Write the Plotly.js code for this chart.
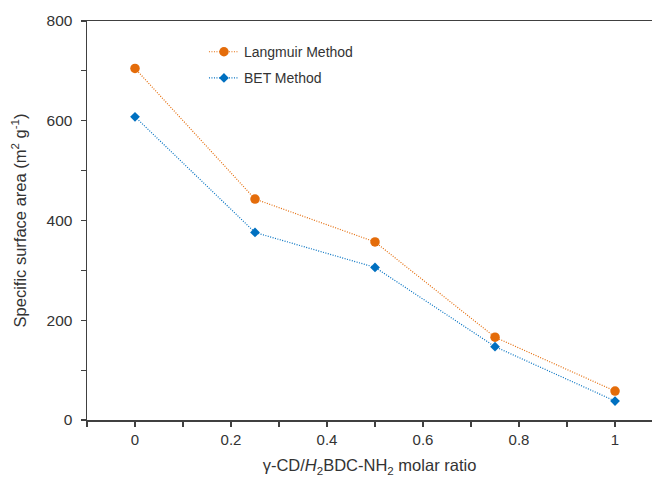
<!DOCTYPE html>
<html>
<head>
<meta charset="utf-8">
<script src="https://cdn.plot.ly/plotly-3.0.1.min.js"></script>
<style>html,body{margin:0;padding:0;background:#fff;}#chart{width:652px;height:477px;}</style>
</head>
<body>
<div id="chart"></div>
<script>
const ratio = [0, 0.25, 0.5, 0.75, 1];
const langmuir = [705, 443, 357, 166, 58];
const bet = [608, 376, 306, 147, 38];
const seriesNames = ["Langmuir Method", "BET Method"];
const xTickVals = [0, 0.2, 0.4, 0.6, 0.8, 1];
const xTickText = ["0", "0.2", "0.4", "0.6", "0.8", "1"];
const yTickVals = [0, 200, 400, 600, 800];

const axisColor = "#404040";
const textColor = "#333333";
const traces = [
  {x: ratio, y: langmuir, name: seriesNames[0], legendgroup: "a", type: "scatter", mode: "lines+markers",
   line: {color: "#E46C0A", width: 1.2, dash: "1px,1.5px"},
   marker: {symbol: "circle", size: 9.5, color: "#E46C0A"}},
  {x: ratio, y: bet, name: seriesNames[1], legendgroup: "b", type: "scatter", mode: "lines+markers",
   line: {color: "#0070C0", width: 1.2, dash: "1px,1.5px"},
   marker: {symbol: "diamond", size: 7.5, color: "#0070C0"}}
];
const layout = {
  width: 652, height: 477,
  margin: {l: 87, r: 0, t: 21, b: 57},
  paper_bgcolor: "#fff", plot_bgcolor: "#fff",
  font: {family: "Liberation Sans, Arial, sans-serif", size: 15, color: textColor},
  showlegend: true,
  legend: {x: 0.207, y: 0.962, xanchor: "left", yanchor: "top", bgcolor: "rgba(0,0,0,0)",
           font: {size: 14, color: textColor}, itemwidth: 30, traceorder: "grouped", tracegroupgap: 5},
  xaxis: {range: [-0.1, 1.077], tickvals: xTickVals, ticktext: xTickText,
          ticks: "outside", ticklen: 5, tickcolor: axisColor, tickwidth: 1.2,
          minor: {tickvals: [-0.1, 0.1, 0.3, 0.5, 0.7, 0.9, 1.1], ticks: "outside", ticklen: 5, tickcolor: axisColor},
          showgrid: false, zeroline: false, showline: true, linecolor: axisColor, linewidth: 1.5, mirror: true,
          title: {text: "γ-CD/<i>H</i><sub>2</sub>BDC-NH<sub>2</sub> molar ratio", font: {size: 16.5, color: textColor}, standoff: 13},
          tickfont: {size: 15, color: textColor}},
  yaxis: {range: [0, 800], tickvals: yTickVals,
          ticks: "outside", ticklen: 5, tickcolor: axisColor, tickwidth: 1.2, ticklabelstandoff: 5,
          minor: {tickvals: [100, 300, 500, 700], ticks: "outside", ticklen: 5, tickcolor: axisColor},
          showgrid: false, zeroline: false, showline: true, linecolor: axisColor, linewidth: 1.5,
          title: {text: "Specific surface area (m<sup>2</sup> g<sup>-1</sup>)", font: {size: 16.5, color: textColor}, standoff: 16},
          tickfont: {size: 15.5, color: textColor}}
};
Plotly.newPlot("chart", traces, layout, {displayModeBar: false, staticPlot: true});
</script>
</body>
</html>
